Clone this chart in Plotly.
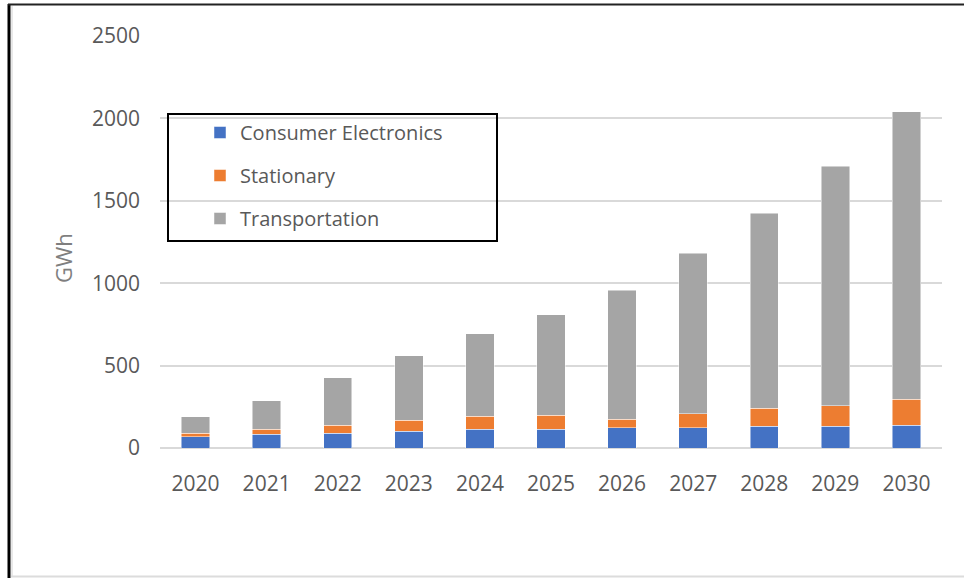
import plotly.graph_objects as go

# Battery demand by end use, GWh
years = ["2020", "2021", "2022", "2023", "2024", "2025", "2026", "2027", "2028", "2029", "2030"]
consumer_electronics = [67, 83, 91, 101, 113, 113, 124, 124, 132, 132, 138]
stationary = [24, 30, 47, 67, 79, 87, 52, 85, 109, 123, 158]
transportation = [100, 175, 289, 392, 500, 608, 781, 973, 1185, 1456, 1743]

series_names = ["Consumer Electronics", "Stationary", "Transportation"]
series_values = [consumer_electronics, stationary, transportation]
series_colors = ["#4472C4", "#ED7D31", "#A5A5A5"]

y_ticks = [0, 500, 1000, 1500, 2000, 2500]

W, H = 964, 578
ML, MR, MT, MB = 160, 22, 36, 130
FONT = "Open Sans"
GREY_TEXT = "#595959"

fig = go.Figure()
for name, vals, col in zip(series_names, series_values, series_colors):
    fig.add_trace(go.Bar(
        x=years, y=vals, name=name, legendgroup=name,
        marker=dict(color=col, line=dict(color="rgba(255,255,255,0.6)", width=0.8)),
    ))

pw = W - ML - MR
ph = H - MT - MB

def px_x(px):
    return (px - ML) / pw

def px_y(py):
    return (H - MB - py) / ph

fig.update_layout(
    width=W, height=H,
    margin=dict(l=ML, r=MR, t=MT, b=MB),
    barmode="stack", bargap=0.6,
    plot_bgcolor="white", paper_bgcolor="white",
    font=dict(family=FONT, color=GREY_TEXT, size=20),
    xaxis=dict(
        showgrid=False, showline=False, zeroline=False,
        tickfont=dict(size=21, color=GREY_TEXT),
        ticks="", ticklabelstandoff=21,
    ),
    yaxis=dict(
        range=[0, 2500], tickvals=y_ticks,
        showgrid=True, gridcolor="#D9D9D9", gridwidth=1.5,
        zeroline=True, zerolinecolor="#D9D9D9", zerolinewidth=1.5,
        showline=False, ticks="",
        tickfont=dict(size=21, color=GREY_TEXT),
        ticklabelstandoff=19,
    ),
    showlegend=True,
    legend=dict(
        x=px_x(200), y=px_y(113), xanchor="left", yanchor="top",
        traceorder="grouped", tracegroupgap=14,
        bgcolor="rgba(0,0,0,0)", borderwidth=0,
        font=dict(size=20, color=GREY_TEXT, family=FONT),
        itemclick=False,
    ),
    annotations=[dict(
        text="GWh", xref="paper", yref="paper",
        x=px_x(63), y=px_y(258), xanchor="center", yanchor="middle",
        textangle=-90,
        showarrow=False, font=dict(size=22, color="#7F7F7F"),
    )],
    shapes=[
        # legend box
        dict(type="rect", xref="paper", yref="paper",
             x0=px_x(168), x1=px_x(497), y0=px_y(241), y1=px_y(114),
             line=dict(color="black", width=2), fillcolor="rgba(0,0,0,0)"),
        # outer frame
        dict(type="line", xref="paper", yref="paper",
             x0=px_x(9), x1=px_x(9), y0=px_y(4), y1=px_y(578),
             line=dict(color="black", width=3)),
        dict(type="line", xref="paper", yref="paper",
             x0=px_x(8), x1=px_x(964), y0=px_y(4.5), y1=px_y(4.5),
             line=dict(color="#222222", width=2)),
        dict(type="line", xref="paper", yref="paper",
             x0=px_x(12), x1=px_x(12), y0=px_y(6), y1=px_y(576),
             line=dict(color="#E0E0E0", width=1.5)),
        dict(type="line", xref="paper", yref="paper",
             x0=px_x(11), x1=px_x(964), y0=px_y(576.5), y1=px_y(576.5),
             line=dict(color="#DCDCDC", width=2)),
    ],
)

fig.write_html("out.html")
